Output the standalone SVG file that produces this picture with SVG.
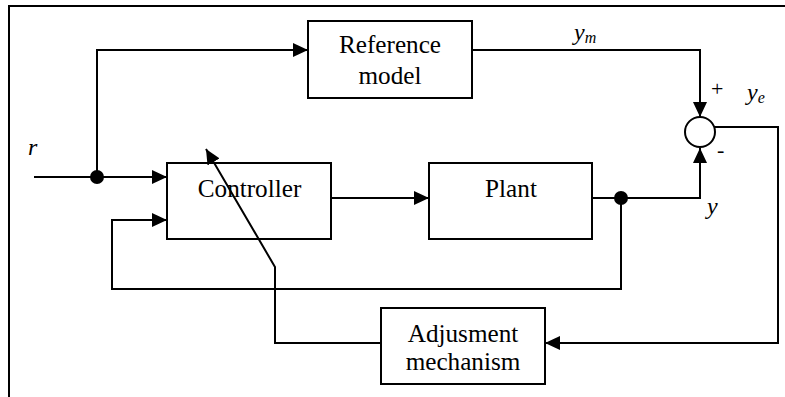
<svg xmlns="http://www.w3.org/2000/svg" width="785" height="397" viewBox="0 0 785 397">
<style>
.box{fill:#fff;stroke:#000;stroke-width:2}
.ln{fill:none;stroke:#000;stroke-width:2}
.t{font-size:25.2px;fill:#000}
.it{font-style:italic;fill:#000}
</style>
<defs>
<marker id="ah" markerUnits="userSpaceOnUse" markerWidth="15" markerHeight="14" refX="15" refY="7" orient="auto">
<path d="M0,0 L15,7 L0,14 z" fill="#000"/>
</marker>
</defs>
<rect width="785" height="397" fill="#fff"/>
<path class="ln" d="M9,397 V6 H785"/>
<g font-family="Liberation Serif, DejaVu Serif, Times New Roman, serif">
<g id="reference-model">
<rect class="box" x="308" y="21" width="164" height="77"/>
<text class="t" x="390" y="53" text-anchor="middle">Reference</text>
<text class="t" x="390" y="84" text-anchor="middle">model</text>
</g>
<g id="controller">
<rect class="box" x="167" y="163" width="164" height="76"/>
<text class="t" x="249.5" y="197" text-anchor="middle">Controller</text>
</g>
<g id="plant">
<rect class="box" x="429" y="163" width="163" height="76"/>
<text class="t" x="511" y="197" text-anchor="middle">Plant</text>
</g>
<g id="adjustment">
<rect class="box" x="381" y="308" width="164" height="76"/>
<text class="t" x="463" y="342" text-anchor="middle">Adjusment</text>
<text class="t" x="463" y="370" text-anchor="middle">mechanism</text>
</g>
<g id="sum">
<circle cx="700" cy="132" r="15" fill="#fff" stroke="#000" stroke-width="2"/>
</g>
<g id="connectors">
<path class="ln" d="M34,177 H167" marker-end="url(#ah)"/>
<path class="ln" d="M97,177 V50 H308" marker-end="url(#ah)"/>
<path class="ln" d="M472,50 H700 V117" marker-end="url(#ah)"/>
<path class="ln" d="M331,198 H429" marker-end="url(#ah)"/>
<path class="ln" d="M592,198 H700 V148" marker-end="url(#ah)"/>
<path class="ln" d="M621,198 V289 H112 V220 H167" marker-end="url(#ah)"/>
<path class="ln" d="M714,127 H778 V343 H545" marker-end="url(#ah)"/>
<path class="ln" d="M381,343 H275 V267 L206,149" marker-end="url(#ah)"/>
<circle cx="97" cy="177" r="7" fill="#000"/>
<circle cx="621" cy="198" r="7" fill="#000"/>
</g>
<g id="labels">
<text class="it" x="28" y="155" font-size="24">r</text>
<text class="it" x="574" y="40" font-size="24">y<tspan font-size="16" dy="3">m</tspan></text>
<text x="711" y="96" font-size="22">+</text>
<text class="it" x="747" y="100" font-size="24">y<tspan font-size="16" dy="3">e</tspan></text>
<text x="717" y="157" font-size="22">-</text>
<text class="it" x="707" y="214" font-size="24">y</text>
</g>
</g>
</svg>
